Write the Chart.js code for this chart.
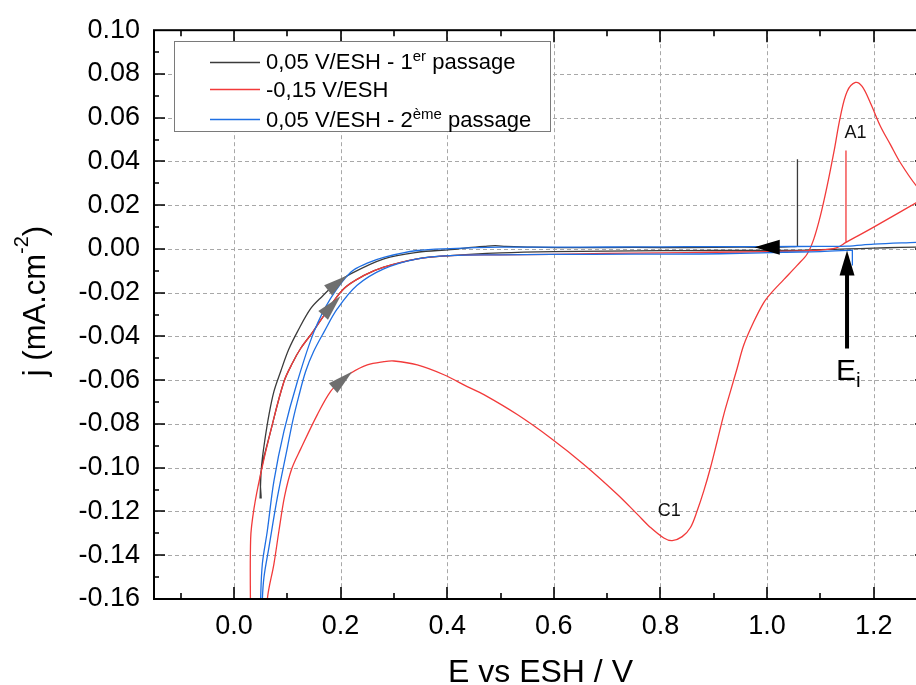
<!DOCTYPE html>
<html><head><meta charset="utf-8">
<script src="https://cdn.jsdelivr.net/npm/chart.js@4.4.1/dist/chart.umd.min.js"></script>
<style>
html,body{margin:0;padding:0;overflow:hidden;background:#fff;width:916px;height:685px;}
#wrap{width:940px;height:685px;position:relative;}
</style></head><body>
<div id="wrap"><canvas id="c" width="940" height="685" style="width:940px;height:685px"></canvas></div>
<script>
const FONT = "'Liberation Sans', Arial, Helvetica, sans-serif";

// ---- axis ticks ----
const xTickValues = [0, 0.2, 0.4, 0.6, 0.8, 1.0, 1.2];
const yTickValues = [-0.16,-0.14,-0.12,-0.10,-0.08,-0.06,-0.04,-0.02,0,0.02,0.04,0.06,0.08,0.10];

// ---- series labels ----
const seriesNames = ["0,05 V/ESH - 1er passage", "-0,15 V/ESH", "0,05 V/ESH - 2ème passage"];

// ---- 0,05 V/ESH - 1er passage (black) ----
const blackE = [1.057,1.057,1.057,1.02,0.95,0.85,0.75,0.65,0.56,0.51,0.49,0.47,0.44,0.4063,0.3439,0.2813,0.2188,0.1875,0.1663,0.1438,0.1189,0.1026,0.0876,0.075,0.0651,0.0576,0.0533,0.051,0.049,0.049,0.051,0.051,0.050,0.0688,0.0938,0.110,0.125,0.148,0.169,0.206,0.244,0.281,0.344,0.406,0.5,0.6,0.7,0.8,0.9,1.0,1.057,1.1,1.15,1.2,1.25,1.31];
const blackJ = [0.041,0.0012,0.0012,0.0008,0.0008,0.0006,0.0007,0.0006,0.0008,0.0012,0.0015,0.0012,0.0006,-0.0003,-0.0015,-0.0045,-0.0114,-0.0166,-0.0215,-0.0273,-0.0379,-0.0460,-0.0560,-0.0651,-0.0765,-0.0879,-0.0956,-0.1015,-0.1138,-0.1138,-0.1138,-0.1138,-0.1029,-0.0833,-0.0606,-0.052,-0.0455,-0.0379,-0.0303,-0.0182,-0.0121,-0.0083,-0.0045,-0.0030,-0.0018,-0.0012,-0.0010,-0.0008,-0.0007,-0.0007,-0.0006,-0.0003,0.0000,0.0004,0.0007,0.0010];

// ---- -0,15 V/ESH (red) ----
const redE = [1.148,1.148,1.148,1.13,1.10,1.0,0.9,0.8,0.7,0.594,0.5,0.406,0.344,0.281,0.244,0.206,0.169,0.148,0.125,0.110,0.0938,0.0688,0.050,0.038,0.0313,0.0313,0.0313,
0.0626,0.0626,0.0626,0.075,0.0844,0.0951,0.1082,0.125,0.1564,0.1813,0.2001,0.2189,0.2501,0.2813,0.30,0.3439,0.3938,0.4376,0.4688,0.5314,0.5938,0.6563,0.7189,0.7564,0.7813,0.8063,0.822,0.8408,0.8563,0.8689,0.8813,0.8938,0.9064,0.9188,0.9313,0.9439,0.9563,0.975,0.9938,1.0064,1.0313,1.0564,1.0752,1.0876,1.1001,1.1127,1.1251,1.1376,1.1502,1.1657,1.1783,1.1939,1.2126,1.2314,1.2501,1.2801,1.30,1.30,1.2,1.148];
const redJ = [0.045,0.003,0.003,0.0005,-0.0005,-0.0012,-0.0015,-0.0018,-0.002,-0.0025,-0.0027,-0.003,-0.0045,-0.0083,-0.0121,-0.0182,-0.0303,-0.0379,-0.0455,-0.052,-0.0606,-0.0833,-0.1029,-0.118,-0.1324,-0.175,-0.175,
-0.175,-0.175,-0.1601,-0.1439,-0.1288,-0.1129,-0.1006,-0.0915,-0.0757,-0.0651,-0.0606,-0.0568,-0.0530,-0.0515,-0.0512,-0.0530,-0.0575,-0.0629,-0.0666,-0.0757,-0.0864,-0.0985,-0.1121,-0.1212,-0.1273,-0.1321,-0.1333,-0.1315,-0.1273,-0.1197,-0.1106,-0.1,-0.0879,-0.0757,-0.0651,-0.0545,-0.0439,-0.0333,-0.0245,-0.0205,-0.0140,-0.0075,-0.0023,0.0045,0.0152,0.0288,0.0440,0.0606,0.0720,0.0761,0.0743,0.0667,0.0561,0.0477,0.0394,0.0288,0.024,0.024,0.010,0.003];

// ---- 0,05 V/ESH - 2ème passage (blue) ----
const blueE = [1.16,1.16,1.16,1.10,1.03,0.95,0.875,0.75,0.594,0.5,0.406,0.344,0.281,0.231,0.194,0.169,0.1494,0.1344,0.1215,0.1101,0.1001,0.0814,0.0656,0.0563,0.0533,0.052,0.052,
0.049,0.049,0.050,0.0533,0.0626,0.075,0.0938,0.119,0.150,0.181,0.219,0.25,0.281,0.344,0.406,0.5,0.6,0.7,0.8,0.9,1.0,1.1,1.15,1.2,1.28,1.31];
const blueJ = [-0.0075,-0.0005,-0.0005,-0.0012,-0.0015,-0.002,-0.0023,-0.0024,-0.0025,-0.0027,-0.003,-0.0045,-0.0091,-0.0166,-0.0273,-0.0379,-0.0469,-0.0560,-0.0674,-0.0788,-0.0909,-0.1136,-0.1364,-0.15,-0.160,-0.175,-0.175,
-0.175,-0.175,-0.160,-0.1438,-0.1288,-0.106,-0.0833,-0.0606,-0.0379,-0.0227,-0.0106,-0.0065,-0.0038,-0.0007,0.0002,0.0008,0.0008,0.0009,0.0010,0.0011,0.0011,0.0012,0.0013,0.0022,0.0030,0.0033];

// ---- annotations (data coordinates) ----
const scanArrows = [ // tip and base centre, grey arrow heads
  {tip:[0.2126,-0.0121], base:[0.1766,-0.0189]},
  {tip:[0.2001,-0.0215], base:[0.1673,-0.0303]},
  {tip:[0.222,-0.056],  base:[0.186,-0.0636]}
];
const startArrow = {tip:[0.9763,0.0008], base:[1.0238,0.0008]};
const EiArrow = {x:1.15, tip:-0.0007, headBase:-0.0121, tail:-0.0455};
const peakLabels = [{text:"A1", x:1.1657, y:0.0508}, {text:"C1", x:0.8166, y:-0.122}];
const EiLabel = {x:1.15, y:-0.06};

const toXY = (E, J) => E.map((e, i) => ({x: e, y: J[i]}));
const COLORS = ['#3b3b3b', '#f23a3a', '#1f6fe3'];

function drawRich(ctx, x, y, parts, align) {
  let w = 0;
  for (const p of parts) { ctx.font = p.size + 'px ' + FONT; w += ctx.measureText(p.t).width; }
  let cx = align === 'center' ? x - w / 2 : x;
  ctx.textAlign = 'left'; ctx.textBaseline = 'alphabetic';
  for (const p of parts) {
    ctx.font = p.size + 'px ' + FONT;
    ctx.fillText(p.t, cx, y + (p.dy || 0));
    cx += ctx.measureText(p.t).width;
  }
}
function tri(ctx, tx, ty, bx, by, w, color) {
  const dx = tx - bx, dy = ty - by, L = Math.hypot(dx, dy);
  const nx = -dy / L * w / 2, ny = dx / L * w / 2;
  ctx.fillStyle = color;
  ctx.beginPath(); ctx.moveTo(tx, ty); ctx.lineTo(bx + nx, by + ny); ctx.lineTo(bx - nx, by - ny); ctx.closePath(); ctx.fill();
}

const deco = {
  id: 'deco',
  beforeDatasetsDraw(chart) {
    const {ctx, chartArea: a, scales: {x, y}} = chart;
    ctx.save();
    ctx.strokeStyle = '#a8a8a8'; ctx.lineWidth = 1; ctx.setLineDash([4, 3]);
    for (const v of xTickValues) {
      const px = Math.round(x.getPixelForValue(v)) + 0.5;
      ctx.beginPath(); ctx.moveTo(px, a.top); ctx.lineTo(px, a.bottom); ctx.stroke();
    }
    for (const v of yTickValues) {
      const py = Math.round(y.getPixelForValue(v)) + 0.5;
      ctx.beginPath(); ctx.moveTo(a.left, py); ctx.lineTo(a.right, py); ctx.stroke();
    }
    ctx.restore();
  },
  afterDatasetsDraw(chart) {
    const {ctx, chartArea: a, scales: {x, y}} = chart;
    const X = v => x.getPixelForValue(v), Y = v => y.getPixelForValue(v);
    ctx.save();
    // frame and inward ticks
    ctx.strokeStyle = '#000'; ctx.lineWidth = 2; ctx.setLineDash([]);
    ctx.strokeRect(a.left, a.top, a.right - a.left, a.bottom - a.top);
    ctx.lineWidth = 1.6;
    for (let k = -1; k <= 12; k++) {
      const px = Math.round(X(k / 10)), L = k % 2 === 0 ? 12 : 6;
      ctx.beginPath();
      ctx.moveTo(px, a.bottom); ctx.lineTo(px, a.bottom - L);
      ctx.moveTo(px, a.top); ctx.lineTo(px, a.top + L);
      ctx.stroke();
    }
    for (let k = -15; k <= 9; k++) {
      const py = Math.round(Y(k / 100)), L = k % 2 === 0 ? 11 : 5;
      ctx.beginPath();
      ctx.moveTo(a.left, py); ctx.lineTo(a.left + L, py);
      ctx.moveTo(a.right, py); ctx.lineTo(a.right - L - 1, py);
      ctx.stroke();
    }
    // grey scan-direction arrow heads
    for (const ar of scanArrows) tri(ctx, X(ar.tip[0]), Y(ar.tip[1]), X(ar.base[0]), Y(ar.base[1]), 13, '#6f6f6f');
    // black start arrow
    tri(ctx, X(startArrow.tip[0]), Y(startArrow.tip[1]), X(startArrow.base[0]), Y(startArrow.base[1]), 15, '#000');
    // Ei arrow
    const ex = X(EiArrow.x);
    ctx.fillStyle = '#000';
    ctx.fillRect(ex - 2, Y(EiArrow.headBase) - 2, 4, Y(EiArrow.tail) - Y(EiArrow.headBase) + 2);
    tri(ctx, ex, Y(EiArrow.tip), ex, Y(EiArrow.headBase), 15, '#000');
    // labels
    ctx.fillStyle = '#111';
    for (const l of peakLabels) drawRich(ctx, X(l.x), Y(l.y), [{t: l.text, size: 18}], 'center');
    ctx.fillStyle = '#000';
    drawRich(ctx, X(EiLabel.x) - 11, Y(EiLabel.y) + 0, [{t: 'E', size: 30}, {t: 'i', size: 21, dy: 7}], 'left');
    // legend
    const lx = 174.5, ly = 41.5, lw = 376, lh = 90;
    ctx.fillStyle = '#fff'; ctx.fillRect(lx, ly, lw, lh);
    ctx.strokeStyle = '#7a7a7a'; ctx.lineWidth = 1; ctx.strokeRect(lx, ly, lw, lh);
    const rows = [
      {y: 62, base: 69, parts: [{t: '0,05 V/ESH - 1', size: 22}, {t: 'er', size: 15, dy: -8.5}, {t: ' passage', size: 22}]},
      {y: 89, base: 97, parts: [{t: seriesNames[1], size: 22}]},
      {y: 119, base: 127, parts: [{t: '0,05 V/ESH - 2', size: 22}, {t: 'ème', size: 15, dy: -8.5}, {t: ' passage', size: 22}]}
    ];
    rows.forEach((r, i) => {
      ctx.strokeStyle = COLORS[i]; ctx.lineWidth = 1.5;
      ctx.beginPath(); ctx.moveTo(210, r.y + 0.5); ctx.lineTo(260, r.y + 0.5); ctx.stroke();
      ctx.fillStyle = '#000';
      drawRich(ctx, 266, r.base, r.parts, 'left');
    });
    // axis titles
    ctx.fillStyle = '#000';
    drawRich(ctx, (a.left + a.right) / 2, 682, [{t: 'E vs ESH / V', size: 32}], 'center');
    ctx.save();
    ctx.translate(45, 301); ctx.rotate(-Math.PI / 2);
    drawRich(ctx, 0, 0, [{t: 'j (mA.cm', size: 31}, {t: '-2', size: 20, dy: -17}, {t: ')', size: 31}], 'center');
    ctx.restore();
    ctx.restore();
  }
};

const mk = (i, E, J, order) => ({
  label: seriesNames[i], data: toXY(E, J), showLine: true, borderColor: COLORS[i],
  backgroundColor: COLORS[i], borderWidth: 1.3, pointRadius: 0, tension: 0.35, fill: false, order
});

new Chart(document.getElementById('c'), {
  type: 'scatter',
  data: { datasets: [mk(0, blackE, blackJ, 3), mk(1, redE, redJ, 2), mk(2, blueE, blueJ, 1)] },
  options: {
    responsive: false, animation: false, devicePixelRatio: 1,
    layout: { padding: { top: 27, right: 13, left: 0, bottom: 0 } },
    plugins: { legend: { display: false }, tooltip: { enabled: false } },
    scales: {
      x: {
        type: 'linear', min: -0.15, max: 1.3,
        afterBuildTicks: s => { s.ticks = xTickValues.map(v => ({ value: v })); },
        afterFit: s => { s.height = 86; },
        grid: { display: false, drawTicks: false }, border: { display: false },
        ticks: { padding: 11, color: '#000', font: { family: FONT, size: 27 }, maxRotation: 0, autoSkip: false,
                 callback: v => Number(v).toFixed(1) }
      },
      y: {
        type: 'linear', min: -0.16, max: 0.10,
        afterBuildTicks: s => { s.ticks = yTickValues.map(v => ({ value: v })); },
        afterFit: s => { s.width = 154; },
        grid: { display: false, drawTicks: false }, border: { display: false },
        ticks: { padding: 14, color: '#000', font: { family: FONT, size: 27 }, autoSkip: false,
                 callback: v => Number(v).toFixed(2) }
      }
    }
  },
  plugins: [deco]
});
</script>
</body></html>
